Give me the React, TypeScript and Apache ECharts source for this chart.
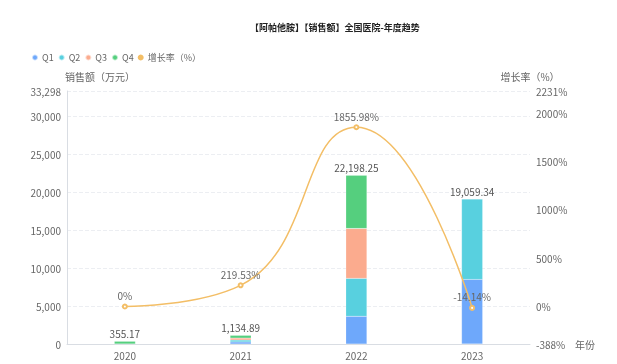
import React, { useEffect, useRef } from "react";
import * as echarts from "echarts";

const titleText = "【阿帕他胺】【销售额】全国医院-年度趋势";
const years = ["2020", "2021", "2022", "2023"];
const q1 = [null, 270, 3650, 8500];
const q2 = [null, 250, 4990, 10559.34];
const q3 = [null, 260, 6560, null];
const q4 = [355.17, 354.89, 6998.25, null];
const totals = [355.17, 1134.89, 22198.25, 19059.34];
const growth = [0, 219.53, 1855.98, -14.14];
const leftMin = 0;
const leftMax = 33298;
const rightMin = -388;
const rightMax = 2231;

const FONT = "'Noto Sans CJK SC', sans-serif";
const colors = ["#6ea8fb", "#58d0df", "#fbab8e", "#55cf7e", "#f3be66"];

export default function App() {
  const ref = useRef<HTMLDivElement>(null);
  useEffect(() => {
    document.body.style.margin = "0";
    const chart = echarts.init(ref.current!, null, { renderer: "svg" });
    const barSeries = (name: string, data: (number | null)[], color: string) => ({
      name,
      type: "bar",
      stack: "sales",
      barWidth: 21,
      data,
      itemStyle: { color, borderColor: "rgba(255,255,255,0.6)", borderWidth: 0.3 },
    });
    chart.setOption({
      animation: false,
      textStyle: { fontFamily: FONT },
      color: colors,
      title: {
        text: titleText,
        left: 245,
        top: 18,
        textStyle: { fontSize: 9, fontWeight: "bold", color: "#222", fontFamily: FONT },
      },
      legend: {
        left: 26,
        top: 48,
        icon: "circle",
        itemWidth: 6,
        itemHeight: 6,
        itemGap: 4,
        itemStyle: {},
        textStyle: { fontSize: 9, color: "#666", fontFamily: FONT, padding: [0, 0, 0, -1] },
        data: ["Q1", "Q2", "Q3", "Q4", "增长率（%）"],
      },
      grid: { left: 67, right: 87, top: 91, bottom: 20 },
      xAxis: {
        type: "category",
        data: years,
        name: "年份",
        nameGap: 45,
        nameTextStyle: { fontSize: 10, color: "#666", verticalAlign: "middle" },
        axisLine: { lineStyle: { color: "#d9dde3" } },
        axisTick: { lineStyle: { color: "#d9dde3" } },
        axisLabel: { fontSize: 10, color: "#666", margin: 6 },
      },
      yAxis: [
        {
          type: "value",
          min: leftMin,
          max: leftMax,
          name: "销售额（万元）",
          nameGap: 10,
          nameTextStyle: { fontSize: 10, color: "#666", align: "left", padding: [0, 0, 0, -2] },
          axisLine: { show: true, lineStyle: { color: "#d9dde3" } },
          axisLabel: { fontSize: 10, color: "#666", margin: 6 },
          splitLine: { lineStyle: { type: "dashed", color: "#eceef2" } },
        },
        {
          type: "value",
          min: rightMin,
          max: rightMax,
          name: "增长率（%）",
          nameGap: 10,
          nameTextStyle: { fontSize: 10, color: "#666" },
          axisLine: { show: false },
          axisLabel: {
            fontSize: 10,
            color: "#666",
            margin: 6,
            formatter: (v: number) => `${v}%`,
          },
          splitLine: { show: false },
        },
      ],
      series: [
        barSeries("Q1", q1, colors[0]),
        barSeries("Q2", q2, colors[1]),
        barSeries("Q3", q3, colors[2]),
        barSeries("Q4", q4, colors[3]),
        {
          name: "合计",
          type: "bar",
          stack: "sales",
          barWidth: 21,
          data: totals.map(() => 0),
          itemStyle: { color: "transparent", borderWidth: 0 },
          label: {
            show: true,
            position: "top",
            distance: 3,
            fontSize: 10,
            color: "#555",
            formatter: (p: any) =>
              totals[p.dataIndex].toLocaleString("en-US", {
                minimumFractionDigits: 2,
                maximumFractionDigits: 2,
              }),
          },
        },
        {
          name: "增长率（%）",
          type: "line",
          yAxisIndex: 1,
          smooth: true,
          data: growth,
          symbol: "emptyCircle",
          symbolSize: 4,
          lineStyle: { width: 1.5, color: colors[4] },
          itemStyle: { color: colors[4] },
          label: {
            show: true,
            position: "top",
            distance: 3,
            fontSize: 10,
            color: "#666",
            formatter: "{c}%",
          },
          z: 5,
        },
      ],
    });
    return () => chart.dispose();
  }, []);
  return (
    <div
      ref={ref}
      style={{ position: "fixed", left: 0, top: 0, width: 617, height: 364 }}
    />
  );
}
